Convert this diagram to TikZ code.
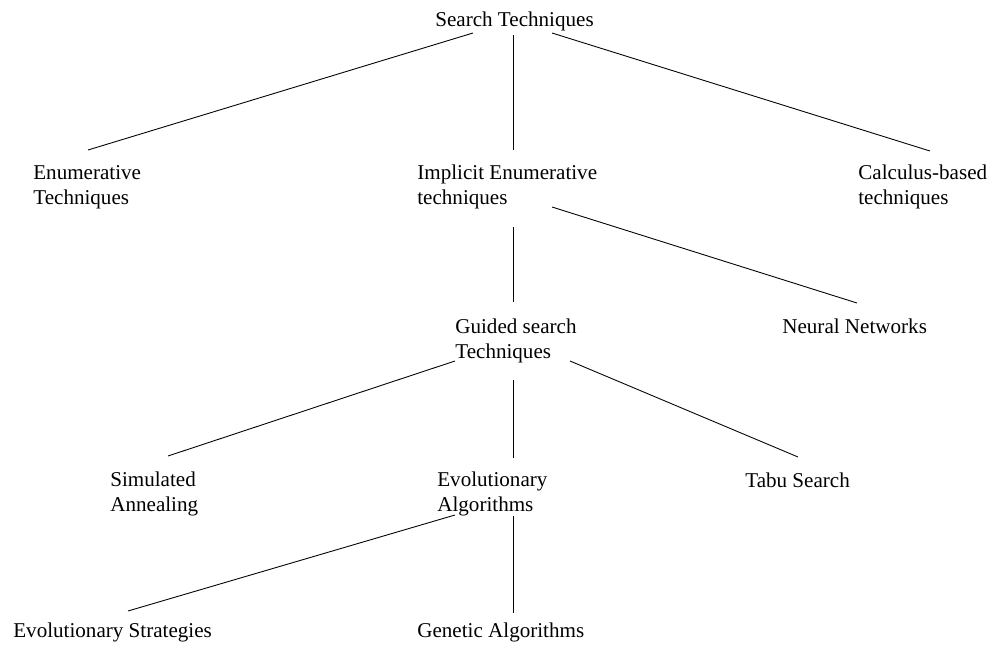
\documentclass[tikz,border=0pt]{standalone}
\usepackage{fontspec}
\setmainfont{Liberation Serif}
\tikzset{
  term/.style={inner sep=0pt, anchor=base west, align=left,
               font=\fontsize{12}{14}\selectfont},
  branch/.style={draw=black, line width=0.5pt},
}
\begin{document}
\begin{tikzpicture}[x=0.02cm, y=-0.02cm]
    \useasboundingbox (0,0) rectangle (995,646);
    \node[term] (root) at (435, 26) {Search Techniques};
    \node[term] (enum) at (33, 204) {Enumerative\\Techniques};
    \node[term] (implicit) at (417, 204) {Implicit Enumerative\\techniques};
    \node[term] (calculus) at (858, 204) {Calculus-based\\techniques};
    \node[term] (guided) at (455, 358) {Guided search\\Techniques};
    \node[term] (neural) at (782, 333) {Neural Networks};
    \node[term] (annealing) at (110, 511) {Simulated\\Annealing};
    \node[term] (evo) at (437, 511) {Evolutionary\\Algorithms};
    \node[term] (tabu) at (745, 487) {Tabu Search};
    \node[term] (strategies) at (13, 637) {Evolutionary Strategies};
    \node[term] (genetic) at (417, 637) {Genetic Algorithms};
    % first level
    \draw[branch] ([shift={(38,7)}]root.base west) -- ([shift={(55,-54)}]enum.base west);
    \draw[branch] ([shift={(78,9)}]root.base west) -- ([shift={(96,-54)}]implicit.base west);
    \draw[branch] ([shift={(117,7)}]root.base west) -- ([shift={(72,-53)}]calculus.base west);
    % second level
    \draw[branch] ([shift={(96,23)}]implicit.base west) -- ([shift={(58,-56)}]guided.base west);
    \draw[branch] ([shift={(135,3)}]implicit.base west) -- ([shift={(75,-30)}]neural.base west);
    % third level
    \draw[branch] ([shift={(0,3)}]guided.base west) -- ([shift={(58,-55)}]annealing.base west);
    \draw[branch] ([shift={(58,22)}]guided.base west) -- ([shift={(76,-53)}]evo.base west);
    \draw[branch] ([shift={(115,3)}]guided.base west) -- ([shift={(53,-30)}]tabu.base west);
    % fourth level
    \draw[branch] ([shift={(18,4)}]evo.base west) -- ([shift={(115,-26)}]strategies.base west);
    \draw[branch] ([shift={(76,5)}]evo.base west) -- ([shift={(96,-24)}]genetic.base west);
\end{tikzpicture}
\end{document}
